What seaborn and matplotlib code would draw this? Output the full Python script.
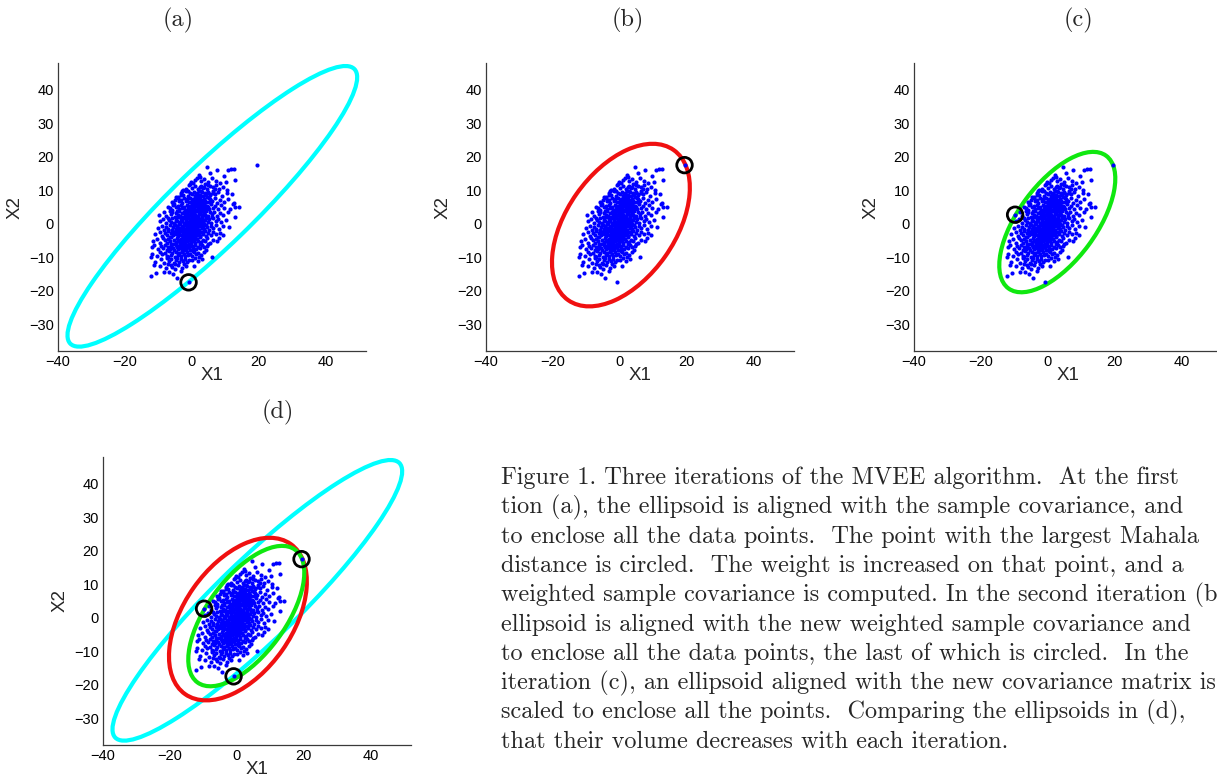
import numpy as np
import pandas as pd
import matplotlib
matplotlib.use("Agg")
import matplotlib.pyplot as plt
from matplotlib.patches import Ellipse
import seaborn as sns

# ---------------- data ----------------
cloud_bottom = [
    (-1.0, -17.5), (-12.3, -15.7), (-8.3, -14.5), (-5.6, -15.0), (-3.3, -14.2), (-6.9, -14.3), (-4.4, -16.1), (-10.6, -14.6),
    (-9.4, -12.6), (-7.6, -13.1), (-6.3, -12.2), (-5.1, -13.6), (-4.2, -12.4), (-3.0, -13.1), (-1.8, -12.7), (-5.8, -12.9),
    (-2.4, -12.1), (0.6, -12.5), (-11.2, -12.3), (-7.0, -12.0),
    (-12.3, -10.0), (-11.0, -11.4), (-9.2, -10.6), (-8.3, -11.6), (-7.5, -10.3), (-6.8, -11.1), (-6.1, -10.5), (-5.5, -11.7),
    (-4.9, -10.8), (-4.4, -10.2), (-3.9, -11.3), (-3.2, -10.6), (-2.7, -11.0), (-2.0, -10.4), (-1.4, -11.5), (-0.8, -10.7),
    (-0.1, -10.9), (0.9, -10.3), (1.8, -11.2), (3.1, -10.5), (6.0, -10.0), (-5.2, -11.9),
    (-12.0, -8.9), (-10.4, -9.5), (-9.6, -8.3), (-8.8, -9.1), (-8.1, -8.6), (-7.4, -9.7), (-6.9, -8.2), (-6.3, -9.3),
    (-5.8, -8.7), (-5.2, -9.8), (-4.8, -8.4), (-4.3, -9.2), (-3.8, -8.8), (-3.4, -9.6), (-2.9, -8.3), (-2.5, -9.0),
    (-2.0, -9.7), (-1.6, -8.5), (-1.1, -9.3), (-0.6, -8.9), (-0.1, -9.5), (0.5, -8.4), (1.1, -9.1), (1.8, -8.7),
    (2.6, -9.4), (3.5, -8.5), (2.2, -9.9), (-7.0, -9.9), (-3.1, -8.1), (0.2, -8.1),
]
cloud_lower = [
    (-12.0, -7.0), (-11.2, -6.3), (-10.1, -7.6), (-9.3, -6.7), (-8.7, -7.3), (-8.0, -6.2), (-7.5, -7.8), (-7.0, -6.9),
    (-6.6, -7.4), (-6.1, -6.5), (-5.7, -7.1), (-5.3, -7.9), (-4.9, -6.3), (-4.5, -7.0), (-4.1, -7.6), (-3.7, -6.6),
    (-3.3, -7.2), (-2.9, -6.1), (-2.5, -7.8), (-2.1, -6.8), (-1.7, -7.4), (-1.3, -6.4), (-0.9, -7.0), (-0.5, -7.7),
    (-0.1, -6.5), (0.3, -7.2), (0.8, -6.2), (1.3, -7.5), (1.8, -6.8), (2.4, -7.3), (3.0, -6.4), (3.7, -7.0),
    (4.5, -6.6), (4.1, -7.8), (4.9, -6.1), (-6.3, -6.0), (-2.2, -6.0), (0.0, -7.9),
    (-11.5, -5.2), (-10.3, -4.6), (-9.4, -5.7), (-8.7, -4.3), (-8.1, -5.0), (-7.5, -5.8), (-7.0, -4.5), (-6.6, -5.3),
    (-6.1, -4.1), (-5.7, -5.9), (-5.3, -4.8), (-4.9, -5.5), (-4.5, -4.2), (-4.1, -5.1), (-3.7, -5.8), (-3.4, -4.5),
    (-3.0, -5.3), (-2.7, -4.0), (-2.3, -5.7), (-2.0, -4.7), (-1.6, -5.2), (-1.3, -4.3), (-0.9, -5.9), (-0.6, -4.9),
    (-0.2, -5.4), (0.2, -4.4), (0.6, -5.1), (1.0, -5.8), (1.4, -4.6), (1.9, -5.3), (2.3, -4.1), (2.8, -5.6),
    (3.3, -4.8), (3.9, -5.2), (4.6, -4.4), (5.3, -5.7), (6.2, -4.9), (7.4, -5.3), (8.0, -4.3), (-2.5, -4.4),
    (-0.4, -4.1), (0.9, -4.2), (-4.7, -5.9), (2.5, -5.9),
    (-10.9, -3.1), (-9.6, -2.4), (-8.8, -3.7), (-8.1, -2.8), (-7.5, -3.4), (-7.0, -2.2), (-6.5, -3.9), (-6.1, -2.9),
    (-5.7, -3.5), (-5.3, -2.5), (-4.9, -3.2), (-4.5, -2.1), (-4.1, -3.8), (-3.8, -2.7), (-3.4, -3.3), (-3.1, -2.3),
    (-2.7, -3.6), (-2.4, -2.9), (-2.0, -3.9), (-1.7, -2.2), (-1.4, -3.1), (-1.1, -2.6), (-0.8, -3.7), (-0.5, -2.4),
    (-0.2, -3.3), (0.1, -2.0), (0.4, -3.0), (0.7, -3.8), (1.0, -2.5), (1.4, -3.4), (1.7, -2.1), (2.1, -3.0),
    (2.5, -3.7), (2.9, -2.6), (3.3, -3.2), (3.8, -2.3), (4.3, -3.6), (4.9, -2.8), (5.6, -3.3), (6.4, -2.4),
    (7.3, -3.0), (8.5, -2.7), (9.3, -3.4), (-3.6, -2.0), (-1.2, -4.0), (0.9, -3.1), (-5.9, -2.0), (2.3, -2.4),
]
cloud_middle = [
    (-10.0, -1.3), (-9.0, -0.6), (-8.2, -1.8), (-7.6, -0.9), (-7.0, -1.5), (-6.5, -0.3), (-6.0, -1.9), (-5.6, -1.1),
    (-5.2, -0.5), (-4.8, -1.7), (-4.4, -0.8), (-4.0, -1.4), (-3.6, -0.2), (-3.3, -1.8), (-2.9, -1.0), (-2.6, -0.6),
    (-2.2, -1.6), (-1.9, -0.1), (-1.6, -1.2), (-1.3, -0.7), (-1.0, -1.9), (-0.7, -0.4), (-0.4, -1.3), (-0.1, -0.9),
    (0.2, -1.7), (0.5, -0.2), (0.8, -1.1), (1.1, -0.5), (1.5, -1.5), (1.8, -0.8), (2.1, -1.9), (2.5, -0.3),
    (2.9, -1.3), (3.3, -0.7), (3.7, -1.6), (4.1, -0.4), (4.6, -1.0), (5.1, -1.8), (5.7, -0.6), (6.4, -1.2),
    (7.2, -0.3), (8.1, -1.5), (9.3, -0.8), (11.0, -1.1), (-2.0, -0.3), (0.0, -0.1), (1.3, -1.9), (-3.0, -1.9),
    (3.5, -0.1), (-5.4, -0.1), (0.6, -1.4),
    (-9.4, 0.8), (-8.5, 1.5), (-7.8, 0.3), (-7.2, 1.8), (-6.7, 1.0), (-6.2, 0.5), (-5.8, 1.6), (-5.3, 0.2),
    (-4.9, 1.2), (-4.5, 0.7), (-4.1, 1.9), (-3.7, 0.4), (-3.4, 1.4), (-3.0, 0.9), (-2.6, 1.7), (-2.3, 0.1),
    (-1.9, 1.1), (-1.6, 0.6), (-1.2, 1.8), (-0.9, 0.3), (-0.6, 1.3), (-0.3, 0.8), (0.0, 1.6), (0.3, 0.2),
    (0.6, 1.0), (0.9, 1.9), (1.2, 0.5), (1.6, 1.4), (1.9, 0.1), (2.3, 1.2), (2.6, 0.7), (3.0, 1.7),
    (3.4, 0.4), (3.8, 1.1), (4.2, 1.8), (4.7, 0.6), (5.2, 1.3), (5.8, 0.2), (6.4, 1.6), (7.1, 0.9),
    (7.9, 1.4), (8.8, 0.5), (10.2, 1.2), (13.0, 1.9), (-2.0, 1.9), (0.2, 0.0), (1.7, 1.8), (-0.5, 0.0),
    (2.8, 0.1), (-4.0, 0.0),
    (-9.8, 2.7), (-8.3, 3.4), (-7.6, 2.3), (-6.6, 3.8), (-6.3, 2.9), (-5.8, 3.5), (-5.2, 2.1), (-4.8, 3.1),
    (-4.3, 2.6), (-3.9, 3.9), (-3.5, 2.4), (-3.1, 3.3), (-2.7, 2.0), (-2.3, 3.6), (-2.0, 2.8), (-1.6, 3.2),
    (-1.2, 2.2), (-0.9, 3.7), (-0.5, 2.5), (-0.2, 3.1), (0.2, 2.1), (0.5, 3.5), (0.9, 2.7), (1.2, 3.9),
    (1.6, 2.3), (2.0, 3.3), (2.3, 2.8), (2.7, 3.7), (3.1, 2.0), (3.5, 3.1), (3.9, 2.6), (4.3, 3.8),
    (4.8, 2.4), (5.3, 3.4), (5.9, 2.9), (6.6, 3.6), (7.4, 2.2), (8.3, 3.2), (9.4, 2.5), (10.8, 3.5),
    (-1.4, 3.9), (0.0, 2.9), (1.4, 2.0), (3.6, 3.9), (-4.6, 3.7), (6.1, 2.0),
]
cloud_upper = [
    (-7.2, 5.1), (-6.5, 4.7), (-6.0, 4.2), (-5.4, 5.8), (-4.8, 4.9), (-4.3, 5.3), (-3.8, 4.4), (-3.3, 5.6),
    (-2.9, 4.8), (-2.4, 5.1), (-2.0, 4.1), (-1.6, 5.7), (-1.1, 4.6), (-0.7, 5.2), (-0.3, 4.3), (0.1, 5.9),
    (0.5, 4.9), (0.9, 5.4), (1.3, 4.2), (1.7, 5.0), (2.1, 5.7), (2.5, 4.5), (2.9, 5.3), (3.3, 4.0),
    (3.7, 5.5), (4.1, 4.7), (4.6, 5.2), (5.1, 4.3), (5.6, 5.8), (6.2, 4.6), (6.9, 5.3), (7.7, 4.4),
    (8.6, 5.6), (9.7, 4.8), (11.4, 4.5), (13.0, 4.9), (14.1, 5.0), (12.3, 5.9), (-5.6, 5.5), (1.0, 4.0),
    (-5.8, 6.6), (-5.0, 7.0), (-5.6, 6.3), (-4.2, 7.7), (-4.0, 6.9), (-3.4, 7.2), (-2.9, 6.1), (-2.4, 7.8),
    (-1.9, 6.7), (-1.4, 7.3), (-0.9, 6.4), (-0.5, 7.6), (0.0, 6.9), (0.4, 7.4), (0.9, 6.2), (1.3, 7.0),
    (1.8, 7.7), (2.2, 6.5), (2.7, 7.2), (3.1, 6.0), (3.6, 7.5), (4.0, 6.8), (4.5, 7.9), (5.0, 6.4),
    (5.5, 7.3), (6.1, 6.7), (6.8, 7.6), (7.5, 6.3), (8.4, 7.1), (9.5, 6.6), (10.8, 7.4), (12.6, 6.2),
    (-4.9, 7.9), (2.4, 8.0),
    (-3.4, 8.7), (-2.9, 9.9), (-4.1, 8.0), (-3.3, 9.1), (-2.6, 8.6), (-1.9, 9.7), (-1.3, 8.2), (-0.7, 9.2),
    (-0.1, 8.8), (0.5, 9.6), (1.0, 8.4), (1.6, 9.1), (2.1, 8.7), (2.7, 9.8), (3.2, 8.3), (3.8, 9.3),
    (4.3, 8.9), (4.9, 9.6), (5.5, 8.5), (6.2, 9.1), (7.0, 8.8), (7.9, 9.5), (9.0, 8.4), (10.5, 9.2),
    (-1.2, 9.9), (12.0, 8.9),
]
cloud_top = [
    (-1.9, 10.3), (-0.5, 11.9), (-1.8, 10.2), (-0.8, 11.7), (0.1, 10.8), (0.9, 11.4), (1.7, 10.4), (2.5, 11.1),
    (3.2, 10.7), (3.9, 11.8), (4.6, 10.3), (5.4, 11.2), (6.2, 10.9), (7.1, 11.6), (8.0, 10.5), (9.2, 11.0),
    (10.4, 10.2), (-2.7, 10.1),
    (-0.3, 12.4), (0.8, 13.1), (0.2, 12.2), (1.4, 13.6), (2.6, 12.8), (3.7, 13.3), (4.8, 12.5), (6.0, 13.8),
    (7.2, 12.9), (8.5, 12.3), (10.2, 12.6), (12.9, 13.0),
    (19.3, 17.5), (4.6, 16.8), (7.4, 16.0), (10.8, 15.9), (11.6, 16.2), (12.6, 16.3), (9.5, 14.2), (2.0, 14.6),
    (5.3, 15.1), (2.5, 14.0),
]
cloud_core = [
    (-3.9, -7.3), (-3.0, -6.6), (-1.9, -7.6), (-1.1, -6.9), (-2.6, -7.1), (-0.4, -6.3), (-4.4, -6.7), (-1.5, -6.2),
    (-3.6, -5.0), (-2.8, -4.6), (-2.1, -5.5), (-1.2, -4.8), (-0.3, -5.6), (0.5, -4.7), (-3.2, -5.9), (-1.7, -4.2),
    (0.1, -5.0), (-2.4, -5.2),
    (-3.0, -3.4), (-2.2, -2.8), (-1.5, -3.5), (-0.9, -2.5), (-0.3, -3.9), (0.3, -2.7), (1.1, -3.3), (-2.6, -2.4),
    (-1.8, -3.0), (0.6, -3.6), (-0.6, -3.0), (1.6, -2.9),
    (-2.6, -1.2), (-1.8, -0.5), (-1.1, -1.6), (-0.5, -0.8), (0.3, -1.4), (0.9, -0.3), (1.6, -1.1), (2.3, -0.6),
    (-2.2, -1.8), (-0.2, -0.2), (1.2, -1.8), (0.6, -0.9),
    (-1.8, 1.3), (-1.0, 0.6), (-0.4, 1.5), (0.4, 0.4), (1.0, 1.1), (1.7, 0.7), (2.4, 1.5), (3.1, 0.9),
    (-1.4, 0.2), (0.1, 1.9), (2.0, 0.3), (1.3, 1.7),
    (-1.0, 2.6), (-0.3, 3.4), (0.4, 2.9), (1.1, 3.7), (1.8, 2.3), (2.4, 3.1), (3.0, 2.7), (3.7, 3.5),
    (-0.7, 3.9), (0.8, 2.2), (2.1, 3.9), (4.3, 2.4),
    (-0.4, 5.0), (0.4, 4.4), (1.2, 5.5), (1.9, 4.7), (2.6, 5.1), (3.3, 4.5), (4.0, 5.4), (4.7, 4.9),
    (0.8, 5.9), (2.2, 4.1), (3.6, 5.8), (-1.0, 4.3),
    (0.6, 7.1), (1.4, 6.5), (2.1, 7.5), (2.9, 6.8), (3.6, 7.2), (4.3, 6.4), (5.1, 7.6), (1.1, 7.9),
    (3.2, 6.1), (5.7, 6.9),
    (1.3, 9.0), (2.3, 8.5), (3.0, 9.4), (3.9, 8.7), (4.6, 9.3), (5.4, 8.8), (6.3, 9.7), (2.0, 9.8),
    (2.8, 11.4), (3.6, 10.9), (4.9, 11.6), (6.8, 10.5),
]

# circled points (largest Mahalanobis distance at each iteration)
circled_x = [-1.0, 19.3, -9.8]
circled_y = [-17.5, 17.5, 2.7]

# enclosing ellipses: iteration (a) cyan, (b) red, (c) green
ell_cx = [6.1, 0.3, 2.8]
ell_cy = [5.2, -0.4, 0.5]
ell_width = [118.0, 54.8, 49.2]
ell_height = [24.2, 32.4, 23.2]
ell_angle = [44.0, 54.9, 53.6]
ell_color = ["#00ffff", "#f01010", "#10e810"]

panel_titles = ["(a)", "(b)", "(c)", "(d)"]
x_ticks = [-40, -20, 0, 20, 40]
y_ticks = [-30, -20, -10, 0, 10, 20, 30, 40]

# caption as visible in the (cropped) reference
caption_lines = [
    "Figure 1. Three iterations of the MVEE algorithm.  At the first",
    "tion (a), the ellipsoid is aligned with the sample covariance, and",
    "to enclose all the data points.  The point with the largest Mahala",
    "distance is circled.  The weight is increased on that point, and a",
    "weighted sample covariance is computed. In the second iteration (b",
    "ellipsoid is aligned with the new weighted sample covariance and",
    "to enclose all the data points, the last of which is circled.  In the",
    "iteration (c), an ellipsoid aligned with the new covariance matrix is",
    "scaled to enclose all the points.  Comparing the ellipsoids in (d),",
    "that their volume decreases with each iteration.",
]

# ---------------- figure ----------------
sns.set_style("white")
plt.rcParams["font.family"] = ["Liberation Sans", "DejaVu Sans"]

W, H = 1217, 778
fig = plt.figure(figsize=(W / 100, H / 100), dpi=100)
fig.patch.set_facecolor("white")

pts = cloud_bottom + cloud_lower + cloud_middle + cloud_upper + cloud_top + cloud_core
df = pd.DataFrame(pts, columns=["X1", "X2"])

AW, AH = 308, 288


def make_ax(left_px, top_px):
    return fig.add_axes([left_px / W, 1 - (top_px + AH) / H, AW / W, AH / H])


def style(ax):
    ax.set_xlim(-40, 52)
    ax.set_ylim(-38, 48)
    ax.set_xticks(x_ticks)
    ax.set_yticks(y_ticks)
    for s in ["top", "right"]:
        ax.spines[s].set_visible(False)
    for s in ["left", "bottom"]:
        ax.spines[s].set_color("#3a3a3a")
        ax.spines[s].set_linewidth(0.9)
    ax.tick_params(direction="in", length=3, width=0.8, color="#3a3a3a",
                   labelcolor="black", labelsize=10.5, pad=3)
    ax.set_xlabel("X1", fontsize=13.5, labelpad=-1.5)
    ax.set_ylabel("X2", fontsize=13.5, labelpad=4)
    ax.set_facecolor("white")


def draw(ax, ell_idx, circ_idx):
    for i in ell_idx:
        ax.add_patch(Ellipse((ell_cx[i], ell_cy[i]), ell_width[i], ell_height[i],
                             angle=ell_angle[i], fill=False, edgecolor=ell_color[i],
                             lw=3.0, zorder=2))
    sns.scatterplot(data=df, x="X1", y="X2", ax=ax, color="#0000ff", s=9,
                    linewidth=0, zorder=3, legend=False)
    ax.scatter([circled_x[j] for j in circ_idx], [circled_y[j] for j in circ_idx],
               s=125, facecolors="none", edgecolors="black", linewidths=2.0, zorder=4)
    style(ax)


ax_a = make_ax(58, 63)
draw(ax_a, [0], [0])
ax_b = make_ax(486, 63)
draw(ax_b, [1], [1])
ax_c = make_ax(914, 63)
draw(ax_c, [2], [2])
ax_d = make_ax(103, 457)
draw(ax_d, [0, 1, 2], [0, 1, 2])

title_pos = [(178, 20), (628, 20), (1078, 20), (278, 412)]
for t, (px, py) in zip(panel_titles, title_pos):
    fig.text(px / W, 1 - py / H, t, ha="center", va="center",
             fontfamily="cmr10", fontsize=17.5)

for i, line in enumerate(caption_lines):
    fig.text(501 / W, 1 - (484 + 29.3 * i) / H, line, ha="left", va="baseline",
             fontfamily="cmr10", fontsize=17.5)

fig.savefig("out.png", dpi=100, facecolor="white")
